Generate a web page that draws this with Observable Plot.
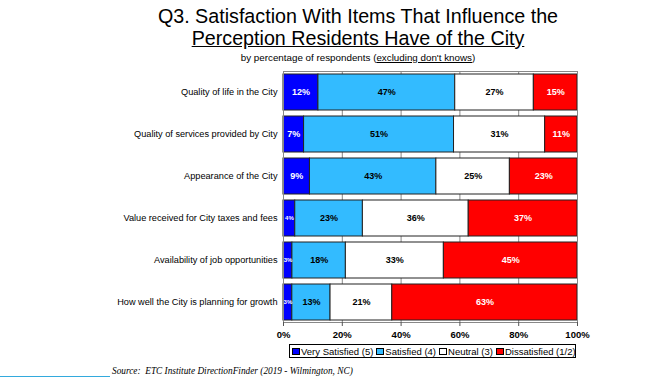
<!DOCTYPE html>
<html>
<head>
<meta charset="utf-8">
<script src="https://cdn.jsdelivr.net/npm/d3@7"></script>
<script src="https://cdn.jsdelivr.net/npm/@observablehq/plot@0.6"></script>
<style>
  body { margin: 0; background: #fff; }
  #wrap { position: relative; width: 654px; height: 378px; overflow: hidden; font-family: Arial, "Liberation Sans", sans-serif; }
  #chart { position: absolute; left: 0; top: 0; }
  .title { position: absolute; left: 0; width: 716px; text-align: center; font-size: 19.7px; color: #000; white-space: nowrap; }
  .sub { position: absolute; left: 0; width: 716px; text-align: center; font-size: 9.8px; color: #000; white-space: nowrap; }
  #legend { position: absolute; left: 289px; top: 344px; width: 287px; height: 14px; border: 1px solid #000; display: flex; align-items: center; font-size: 9.5px; white-space: nowrap; box-sizing: border-box; padding-left: 2px; }
  #legend span.sw { display: inline-block; width: 8px; height: 7px; border: 1px solid #000; margin-right: 1px; box-sizing: border-box; }
  #legend span.it { margin-right: 3px; display: inline-flex; align-items: center; }
  #source { position: absolute; left: 112px; top: 366px; font-family: "Liberation Serif", "Times New Roman", serif; font-style: italic; font-size: 9.3px; white-space: nowrap; }
  #srcline { position: absolute; left: 0; top: 376px; width: 110px; height: 1px; background: #33aadd; }
</style>
</head>
<body>
<div id="wrap">
  <div id="chart"></div>
  <div class="title" style="top:5px;">Q3. Satisfaction With Items That Influence the</div>
  <div class="title" style="top:27px;"><u>Perception Residents Have of the City</u></div>
  <div class="sub" style="top:52px;">by percentage of respondents (<u>excluding don't knows</u>)</div>
  <div id="legend"></div>
  <div id="srcline"></div>
  <div id="source">Source:&nbsp; ETC Institute DirectionFinder (2019 - Wilmington, NC)</div>
</div>
<script>
const items = [
  "Quality of life in the City",
  "Quality of services provided by City",
  "Appearance of the City",
  "Value received for City taxes and fees",
  "Availability of job opportunities",
  "How well the City is planning for growth"
];
const series = ["Very Satisfied (5)", "Satisfied (4)", "Neutral (3)", "Dissatisfied (1/2)"];
const colors = ["#0000ff", "#33bbff", "#ffffff", "#ff0000"];
const labelColors = ["#ffffff", "#000000", "#000000", "#ffffff"];
const verySatisfied = [12, 7, 9, 4, 3, 3];
const satisfied = [47, 51, 43, 23, 18, 13];
const neutral = [27, 31, 25, 36, 33, 21];
const dissatisfied = [15, 11, 23, 37, 45, 63];
const xTicks = [0, 0.2, 0.4, 0.6, 0.8, 1];

const valuesBySeries = [verySatisfied, satisfied, neutral, dissatisfied];
const data = [];
items.forEach((item, i) => {
  series.forEach((s, j) => {
    data.push({item, series: s, si: j, value: valuesBySeries[j][i]});
  });
});

const stackOpts = {x: "value", y: "item", z: "series", order: series, offset: "normalize"};

const chart = Plot.plot({
  width: 654,
  height: 378,
  marginLeft: 283,
  marginRight: 77,
  marginTop: 71,
  marginBottom: 56,
  style: {fontFamily: "Arial, 'Liberation Sans', sans-serif", background: "transparent"},
  x: {domain: [0, 1], ticks: xTicks, tickFormat: d => Math.round(d * 100) + "%", label: null, tickSize: 4},
  y: {domain: items, label: null, paddingInner: 0.147, paddingOuter: 0.05, tickSize: 0, tickPadding: 6},
  color: {domain: series, range: colors},
  marks: [
    Plot.gridX(xTicks, {stroke: "#888", strokeOpacity: 1}),
    Plot.barX(data, Plot.stackX({...stackOpts, fill: "series", stroke: "#222", strokeWidth: 1})),
    Plot.text(data, Plot.stackX({
      ...stackOpts,
      text: d => d.value + "%",
      fill: d => labelColors[d.si],
      fontSize: d => d.value < 5 ? 6 : 9,
      fontWeight: "bold"
    })),
    Plot.frame({stroke: "#888"}),
    Plot.axisX({ticks: xTicks, tickFormat: d => Math.round(d * 100) + "%", tickSize: 4, fontWeight: "bold", fontSize: 9.5, label: null, stroke: "#555"}),
    Plot.axisY({tickSize: 0, tickPadding: 6, fontSize: 9.2, label: null})
  ]
});
document.getElementById("chart").appendChild(chart);

const legend = document.getElementById("legend");
series.forEach((s, j) => {
  const it = document.createElement("span");
  it.className = "it";
  const sw = document.createElement("span");
  sw.className = "sw";
  sw.style.background = colors[j];
  it.appendChild(sw);
  it.appendChild(document.createTextNode(s));
  legend.appendChild(it);
});
</script>
</body>
</html>
